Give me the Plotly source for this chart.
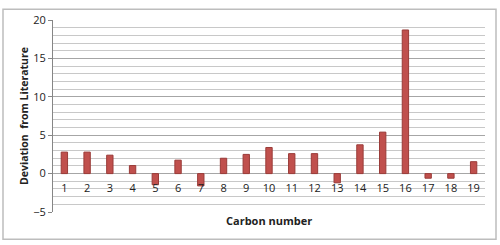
import plotly.graph_objects as go

carbon = [str(i) for i in range(1, 20)]
deviation = [2.8, 2.8, 2.4, 1.05, -1.45, 1.75, -1.6, 2.0, 2.5, 3.4,
             2.6, 2.6, -1.2, 3.75, 5.4, 18.7, -0.6, -0.6, 1.55]

fig = go.Figure()
fig.add_trace(go.Bar(
    x=carbon, y=deviation, width=0.28,
    marker=dict(color="#C0504D", line=dict(color="#9A3B38", width=1)),
))

W, H = 500, 245
l, r, t, b = 53, 15, 14, 33
pw, ph = W - l - r, H - t - b

fig.update_layout(
    width=W, height=H,
    margin=dict(l=l, r=r, t=t, b=b),
    paper_bgcolor="white", plot_bgcolor="white",
    showlegend=False,
    font=dict(family="Open Sans, Liberation Sans, sans-serif", size=11, color="#222"),
    xaxis=dict(
        type="category",
        anchor="free", position=0.2,
        showgrid=False, showline=False, zeroline=False,
        ticks="", ticklabelstandoff=6, tickfont=dict(size=11, color="#222"),
        title=None,
    ),
    yaxis=dict(
        range=[-5, 20], dtick=5,
        showgrid=True, gridcolor="#A6A6A6", gridwidth=1,
        zeroline=False,
        showline=True, linecolor="#868686", linewidth=1,
        ticks="outside", ticklen=4, tickcolor="#868686",
        tickfont=dict(size=11, color="#222"),
        minor=dict(dtick=1, showgrid=True, gridcolor="#C8C8C8", gridwidth=1),
        title=dict(text="<b>Deviation  from Literature</b>", font=dict(size=10.5), standoff=2),
    ),
    annotations=[dict(
        text="<b>Carbon number</b>", xref="paper", yref="paper",
        x=0.5, y=((H - b) - 221) / ph, yanchor="middle", xanchor="center",
        showarrow=False, font=dict(size=11),
    )],
    shapes=[dict(
        type="rect", xref="paper", yref="paper",
        x0=(3 - l) / pw, x1=(496 - l) / pw,
        y0=-(240 - (H - b)) / ph,
        y1=1 + (t - 3) / ph,
        line=dict(color="#BDBDBD", width=1.5), layer="below",
    )],
)
fig.write_html("out.html")
